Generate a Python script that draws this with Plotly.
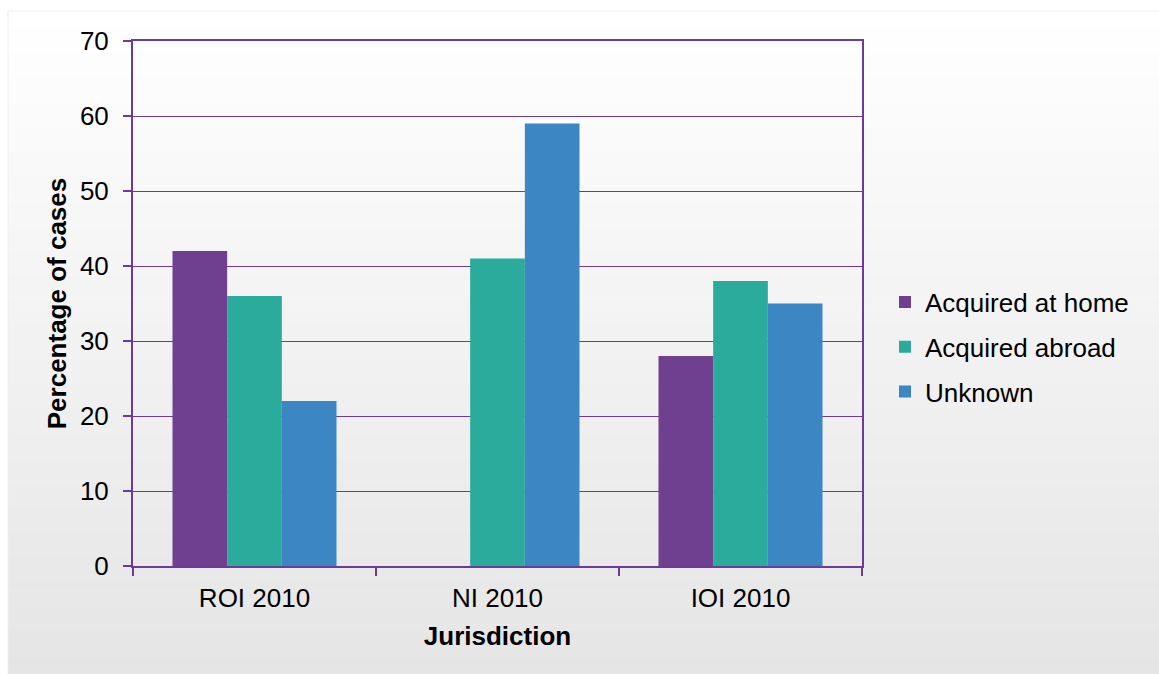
import plotly.graph_objects as go

# Share of cases by place of acquisition, per jurisdiction
jurisdictions = ["ROI 2010", "NI 2010", "IOI 2010"]
acquired_at_home = [42, 0, 28]
acquired_abroad = [36, 41, 38]
unknown = [22, 59, 35]

series_names = ["Acquired at home", "Acquired abroad", "Unknown"]
series_colors = ["#6f408f", "#2aab9c", "#3b86c3"]
y_ticks = [0, 10, 20, 30, 40, 50, 60, 70]

W, H = 1159, 674
M_L, M_R, M_T, M_B = 133, 297, 41, 108
PLOT_W = W - M_L - M_R
PLOT_H = H - M_T - M_B

FONT = "Liberation Sans, Arial, sans-serif"
AXIS_COLOR = "#6b3a9c"


def px_x(px):
    return (px - M_L) / PLOT_W


def px_y(py):
    return (H - M_B - py) / PLOT_H


fig = go.Figure()
for name, vals, col in zip(series_names,
                           [acquired_at_home, acquired_abroad, unknown],
                           series_colors):
    fig.add_trace(go.Bar(name=name, x=jurisdictions, y=vals, legendgroup=name,
                         marker=dict(color=col, line=dict(width=0))))

# soft vertical background gradient behind the whole chart
shapes = []
n_strips = 80
top_px, bottom_px, left_px = 11, H, 8
for i in range(n_strips):
    y0 = top_px + (bottom_px - top_px) * i / n_strips
    y1 = top_px + (bottom_px - top_px) * (i + 1) / n_strips
    t = (i + 0.5) / n_strips
    g = round(255 - (255 - 229) * t)
    shapes.append(dict(type="rect", xref="paper", yref="paper",
                       x0=px_x(left_px), x1=px_x(W + 2),
                       y0=px_y(y1 + 0.5), y1=px_y(y0),
                       fillcolor=f"rgb({g},{g},{g})",
                       line=dict(width=0), layer="below"))
shapes.append(dict(type="rect", xref="paper", yref="paper",
                   x0=px_x(left_px), x1=px_x(W + 2),
                   y0=px_y(H + 2), y1=px_y(top_px),
                   fillcolor="rgba(0,0,0,0)",
                   line=dict(width=1, color="#eeeeee"), layer="below"))

fig.update_layout(
    width=W, height=H,
    margin=dict(l=M_L, r=M_R, t=M_T, b=M_B, pad=0),
    paper_bgcolor="white",
    plot_bgcolor="rgba(0,0,0,0)",
    font=dict(family=FONT, size=26, color="black"),
    barmode="group",
    bargap=0.325,
    bargroupgap=0,
    shapes=shapes,
    showlegend=True,
    legend=dict(x=px_x(885), xanchor="left", y=px_y(347), yanchor="middle",
                bgcolor="rgba(0,0,0,0)", font=dict(size=26, family=FONT),
                itemclick=False, traceorder="grouped", tracegroupgap=8),
    xaxis=dict(
        title=dict(text="<b>Jurisdiction</b>", standoff=15,
                   font=dict(size=26, family=FONT)),
        showline=True, linecolor=AXIS_COLOR, linewidth=2, mirror=True,
        ticks="outside", tickson="boundaries", ticklen=8,
        tickcolor=AXIS_COLOR, tickwidth=1.5,
        ticklabelstandoff=8,
        showgrid=False, zeroline=False,
        tickfont=dict(size=26, family=FONT),
    ),
    yaxis=dict(
        title=dict(text="<b>Percentage of cases</b>", standoff=6,
                   font=dict(size=26, family=FONT)),
        range=[0, 70], tickvals=y_ticks,
        showline=True, linecolor=AXIS_COLOR, linewidth=2, mirror=True,
        ticks="outside", ticklen=8, tickcolor=AXIS_COLOR, tickwidth=1.5,
        ticklabelstandoff=9,
        showgrid=True, gridcolor=AXIS_COLOR, gridwidth=1.3,
        zeroline=False,
        tickfont=dict(size=26, family=FONT),
    ),
)

fig.write_html("out.html")
